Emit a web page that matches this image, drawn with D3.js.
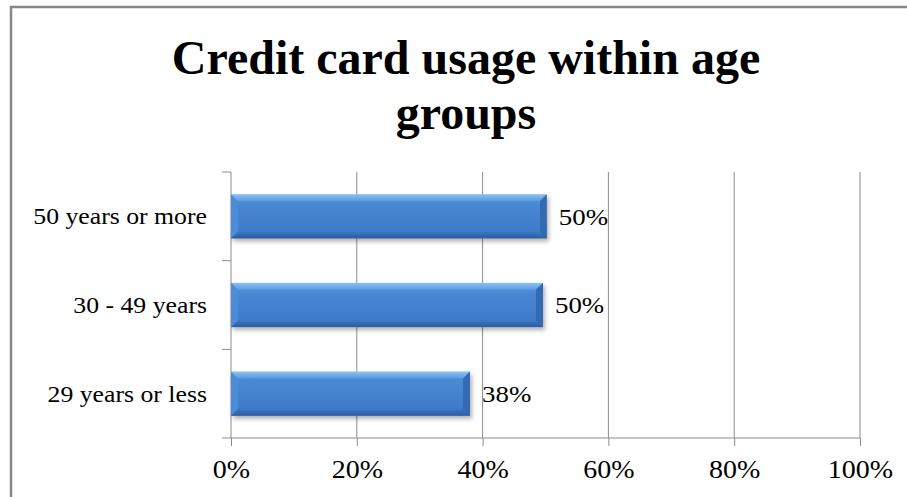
<!DOCTYPE html>
<html>
<head>
<meta charset="utf-8">
<script src="https://cdn.jsdelivr.net/npm/d3@7"></script>
<style>
  body { margin: 0; background: #fff; }
  svg text { font-family: "Liberation Serif", serif !important; fill: #000; }
</style>
</head>
<body>
<div id="chart"></div>
<script>
// data
let categories = ["50 years or more", "30 - 49 years", "29 years or less"];
let values = [0.502, 0.496, 0.38];
let valueLabels = ["50%", "50%", "38%"];
let xTicks = [0, 0.2, 0.4, 0.6, 0.8, 1.0];

let W = 907, H = 497;
let margin = {top: 172, right: 47, bottom: 59, left: 231},
width = W - margin.left - margin.right,
height = H - margin.top - margin.bottom;
let stretch = 1.12;  // the reference's serif text is a bit wider than Liberation Serif
let serif = "'Liberation Serif', serif";

let svg = d3.select("#chart").append("svg")
    .attr("width", W).attr("height", H);

// outer chart border (runs off the right and bottom edges)
svg.append("rect")
    .attr("x", 11).attr("y", 7)
    .attr("width", W + 10).attr("height", H + 10)
    .attr("fill", "none").attr("stroke", "#878787").attr("stroke-width", 2.5);

// title
let title = svg.append("text")
    .attr("text-anchor", "middle")
    .attr("font-family", serif)
    .attr("font-size", 48)
    .attr("font-weight", "bold");
title.append("tspan").attr("x", 466).attr("y", 74).text("Credit card usage within age");
title.append("tspan").attr("x", 466).attr("y", 129).text("groups");

let defs = svg.append("defs");
let grad = defs.append("linearGradient").attr("id", "barOuter")
    .attr("x1", 0).attr("y1", 0).attr("x2", 0).attr("y2", 1);
grad.append("stop").attr("offset", "0%").attr("stop-color", "#8cc2f4");
grad.append("stop").attr("offset", "15%").attr("stop-color", "#5c9de2");
grad.append("stop").attr("offset", "85%").attr("stop-color", "#3c77c3");
grad.append("stop").attr("offset", "100%").attr("stop-color", "#2b5c9f");
let gradIn = defs.append("linearGradient").attr("id", "barInner")
    .attr("x1", 0).attr("y1", 0).attr("x2", 0).attr("y2", 1);
gradIn.append("stop").attr("offset", "0%").attr("stop-color", "#4c8ad6");
gradIn.append("stop").attr("offset", "100%").attr("stop-color", "#3e7bc8");
let shadow = defs.append("filter").attr("id", "shadow")
    .attr("x", "-5%").attr("y", "-20%").attr("width", "115%").attr("height", "160%");
shadow.append("feDropShadow").attr("dx", 2).attr("dy", 3).attr("stdDeviation", 2)
    .attr("flood-color", "#000").attr("flood-opacity", 0.3);

let g = svg.append("g").attr("transform", `translate(${margin.left},${margin.top})`);

let xScale = d3.scaleLinear().domain([0, 1]).range([0, width]);
let yScale = d3.scaleBand().domain(categories).range([0, height]).paddingInner(0.5).paddingOuter(0.25);
let bandStep = yScale.step();

// vertical gridlines
g.append("g").selectAll("line")
    .data(xTicks.slice(1))
    .join("line")
    .attr("x1", d => xScale(d)).attr("x2", d => xScale(d))
    .attr("y1", 0).attr("y2", height)
    .attr("stroke", "#8c8c8c").attr("stroke-width", 1);

// x axis
let xAxis = d3.axisBottom(xScale).tickValues(xTicks).tickSize(8).tickPadding(14)
    .tickFormat(d3.format(".0%"));
let xg = g.append("g").attr("transform", `translate(0,${height})`).call(xAxis)
    .attr("font-family", serif);
xg.select(".domain").attr("stroke", "#8c8c8c").attr("d", `M-9,0H${width}`);
xg.selectAll(".tick line").attr("stroke", "#8c8c8c");
xg.selectAll("text").attr("font-size", 25).style("font-family", serif)
    .attr("transform", `scale(${stretch},1)`);

// y axis: ticks at band boundaries
g.append("line").attr("x1", 0).attr("x2", 0).attr("y1", 0).attr("y2", height)
    .attr("stroke", "#8c8c8c");
let bounds = d3.range(categories.length).map(i => i * bandStep);
g.append("g").selectAll("line").data(bounds).join("line")
    .attr("x1", -9).attr("x2", 0)
    .attr("y1", d => d).attr("y2", d => d)
    .attr("stroke", "#8c8c8c");
g.append("g").selectAll("text").data(categories).join("text")
    .attr("transform", d => `translate(-24,${yScale(d) + yScale.bandwidth() / 2}) scale(${stretch},1)`)
    .attr("dy", "0.35em")
    .attr("text-anchor", "end")
    .style("font-family", serif)
    .attr("font-size", 23)
    .text(d => d);

// bars with bevel
let bars = g.append("g").selectAll("g").data(categories).join("g");
bars.each(function(c, i) {
    let sel = d3.select(this);
    let x0 = xScale(0), x1 = xScale(values[i]);
    let y0 = yScale(c), y1 = y0 + yScale.bandwidth();
    let b = 7;
    sel.append("rect").attr("x", x0).attr("y", y0)
        .attr("width", x1 - x0).attr("height", y1 - y0)
        .attr("fill", "url(#barOuter)").attr("filter", "url(#shadow)");
    // left bevel (lighter)
    sel.append("polygon")
        .attr("points", [[x0, y0], [x0 + b, y0 + b], [x0 + b, y1 - b], [x0, y1]].join(" "))
        .attr("fill", "#4d8cd8");
    // right bevel (darker)
    sel.append("polygon")
        .attr("points", [[x1, y0], [x1 - b, y0 + b], [x1 - b, y1 - b], [x1, y1]].join(" "))
        .attr("fill", "#336bb3");
    sel.append("rect").attr("x", x0 + b).attr("y", y0 + b)
        .attr("width", x1 - x0 - 2 * b).attr("height", y1 - y0 - 2 * b)
        .attr("fill", "url(#barInner)");
});

// value labels
g.append("g").selectAll("text").data(categories).join("text")
    .attr("transform", (d, i) => `translate(${xScale(values[i]) + 12},${yScale(d) + yScale.bandwidth() / 2}) scale(${stretch},1)`)
    .attr("dy", "0.35em")
    .style("font-family", serif)
    .attr("font-size", 24)
    .text((d, i) => valueLabels[i]);
</script>
</body>
</html>
